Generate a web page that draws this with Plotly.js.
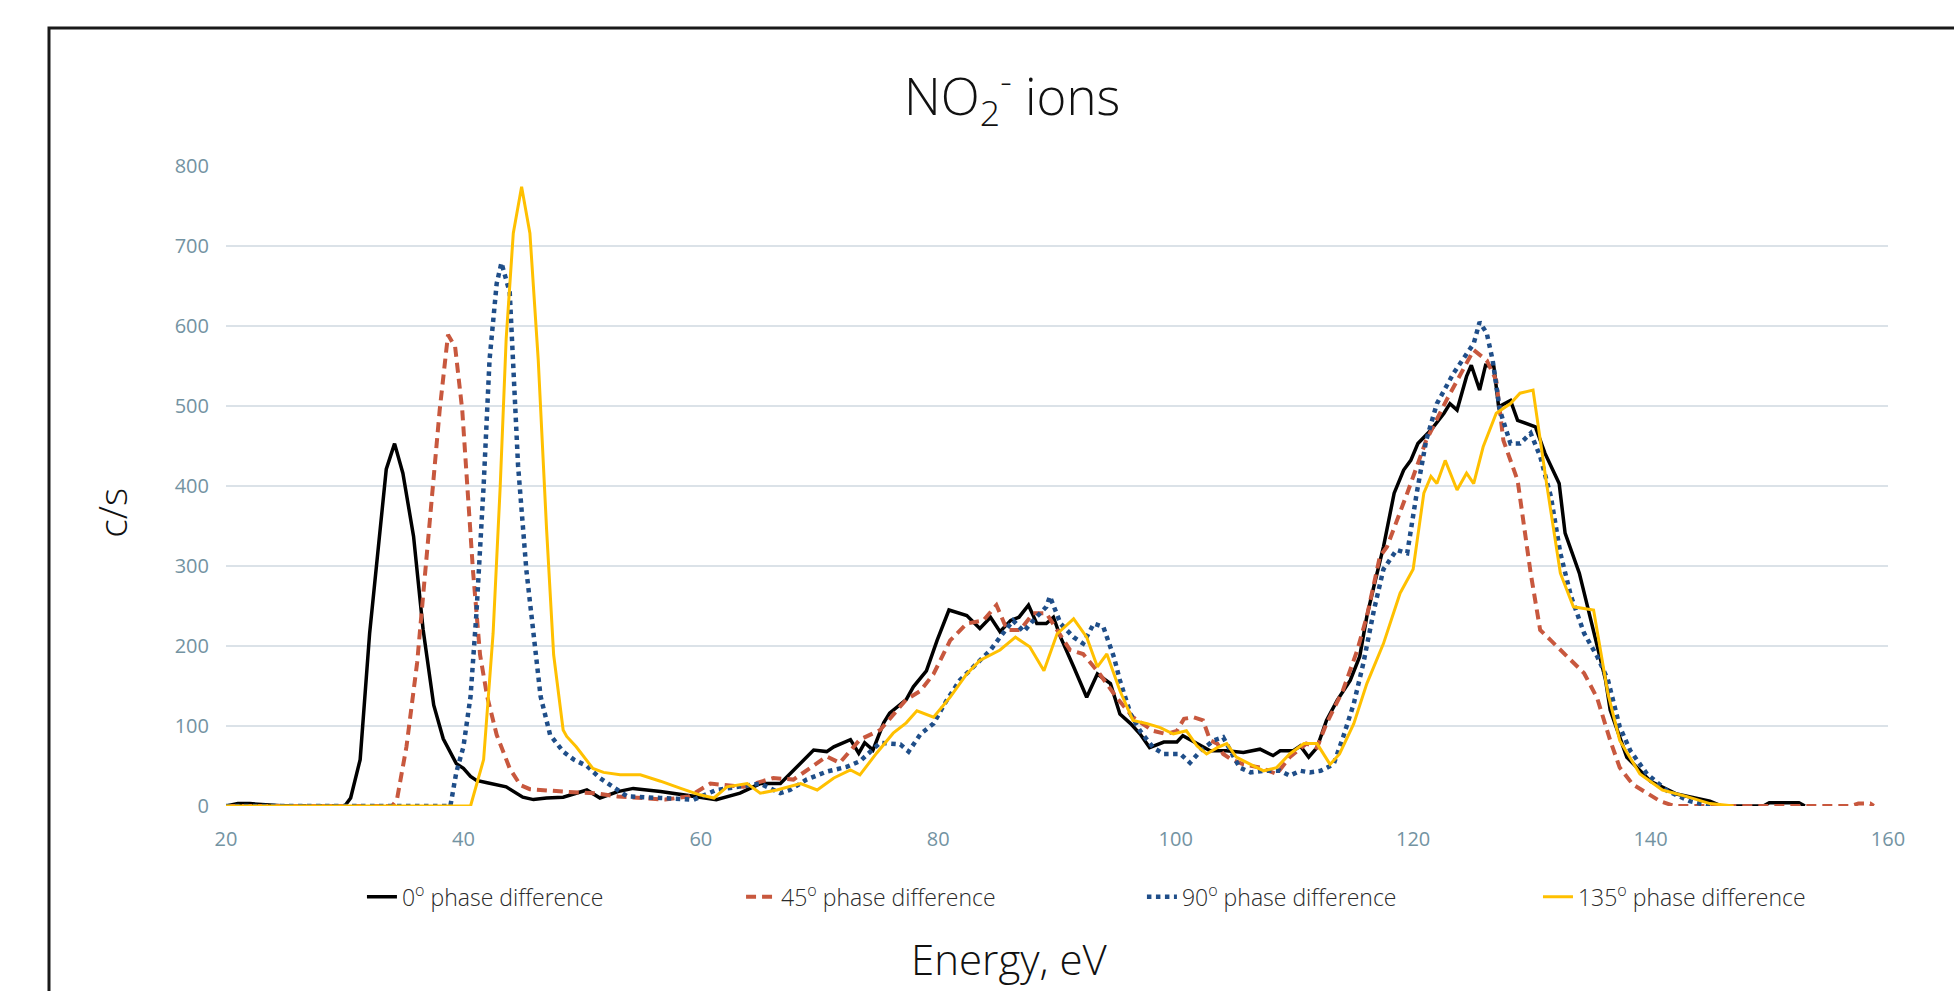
<!DOCTYPE html>
<html>
<head>
<meta charset="utf-8">
<script src="https://cdn.plot.ly/plotly-3.0.1.min.js"></script>
<style>html,body{margin:0;padding:0;background:#fff;}#chart{width:1954px;height:991px;}</style>
</head>
<body>
<div id="chart"></div>
<script>
// Series names
const seriesNames = ['0<sup>o</sup> phase difference', '45<sup>o</sup> phase difference', '90<sup>o</sup> phase difference', '135<sup>o</sup> phase difference'];

// 0 degree phase difference: energy (eV) and count rate (c/s)
const e0 = [20,21,22,23,24,25,28,30,30.5,31.3,
  32.1,33,33.5,34.2,34.9,35.8,36.6,37.5,38.3,39.4,
  40,40.6,41.1,42,42.8,43.6,45,45.9,47,48.4,
  50.4,51.5,53,54.3,56.6,58,59.4,61.3,63.3,65,
  66.7,67.8,69.5,70.6,71.2,72.6,73.3,73.8,74.5,75.4,
  75.9,77.3,77.9,79,79.9,80.9,82.4,83.5,84.4,85.2,
  86.1,86.8,87.6,88.3,89.1,89.7,90.3,91.4,92.5,93.4,
  94.5,95.3,96.2,97,97.8,99,100.1,100.6,101.8,102.9,
  104.3,105.7,107.1,108.2,108.8,109.9,110.5,111.2,111.9,112.7,
  113.6,114.7,115.5,116.1,116.7,117.5,118.4,119.2,119.8,120.4,
  121.5,122.6,123.1,123.7,124.5,124.9,125.6,126.1,126.8,127.2,
  128.2,128.8,130.3,131.1,132.3,132.8,134,135.1,136.2,136.6,
  138,140,142.2,145,146,149.5,150,152.5,153];
const c0 = [0,3,3,2,0,0,0,0,10,58,
  216,347,421,453,416,337,221,126,84,53,
  47,37,32,29,26,24,11,8,10,11,
  20,10,18,22,18,15,12,8,16,28,
  28,45,70,68,74,83,66,79,70,104,
  116,133,149,169,207,245,238,222,236,218,
  232,236,251,228,228,236,211,174,136,165,
  153,115,103,90,73,80,80,88,78,69,
  69,67,71,63,69,69,75,61,73,107,
  132,157,187,237,275,324,391,420,432,453,
  470,491,503,495,537,551,520,551,549,499,
  507,482,474,441,403,341,291,224,158,120,
  61,31,15,6,0,0,4,4,0];

// 45 degree phase difference
const e45 = [20,34,34.4,35.2,36.1,36.9,37.5,38,38.7,39.3,
  39.9,40.4,40.8,41.4,42,42.8,43.9,44.8,45.6,48.4,
  51,53,55.2,57,59,60.8,63.6,66.1,67.8,70.6,
  71.7,73.4,75.1,77.3,78.5,79.6,81,82.4,83.8,84.9,
  85.8,86.9,88,89.1,90,91.1,92.2,93.6,95,96.4,
  98.1,99.2,100.1,100.7,101.5,102.3,102.9,103.5,104,104.6,
  105.7,107.1,108.5,109.6,111,111.9,112.7,114.1,115.3,116.1,
  117.2,117.8,119.5,121.1,122.8,124.2,125.1,126.2,127,127.6,
  128.8,129.9,130.7,131.6,132.7,134.4,135.5,136.6,137.4,138.5,
  140.8,142,156.8,157.5,158.5,158.8];
const c45 = [0,0,8,74,179,311,400,495,589,574,
  495,384,295,189,137,89,47,26,21,18,
  16,12,10,8,12,28,24,35,33,62,
  54,83,95,133,144,165,207,228,232,251,
  220,220,241,241,220,195,190,165,136,111,
  94,90,94,109,111,107,82,78,65,59,
  52,48,40,61,78,73,103,145,195,237,
  312,324,391,457,507,545,570,557,532,457,
  407,291,220,207,191,166,135,82,48,27,
  6,0,0,3,3,0];

// 90 degree phase difference
const e90 = [20,38.9,39.4,40,40.6,41.1,41.7,42.2,42.8,43.2,
  43.9,44.2,44.6,45.3,45.9,46.5,47.3,48.4,49.3,50.4,
  51.5,52.4,53.8,56.6,59.4,61.3,63,65,66.7,67.5,
  68.9,70.6,72.3,73.4,75.1,76.8,77.5,78.5,79.6,80.7,
  81.8,83,84.4,85.2,86.3,87.2,88,89.1,89.4,90.3,
  91.4,92.2,93.1,93.9,94.8,95.3,96.2,97,98.1,99,
  100.4,101.2,102.1,103.2,104,104.9,105.4,106.3,107.4,108.8,
  109.6,110.5,111.3,112.2,113.3,114.1,115,115.8,116.7,117.5,
  118.6,119.5,120.3,121.1,122,123.4,124.5,125.1,125.6,126.2,
  126.7,127.3,128.2,129,129.9,130.7,131.6,132.4,133.3,134.4,
  135.5,136.4,137.4,138.3,139.7,141.4,143.3,145];
const c90 = [0,0,42,74,137,242,400,558,653,679,
  642,558,426,295,216,137,89,68,58,50,
  35,26,12,10,8,20,24,28,16,20,
  33,43,49,56,79,77,68,90,103,132,
  157,174,195,211,232,218,232,249,262,228,
  211,203,228,224,186,157,115,94,73,65,
  65,54,69,82,86,61,48,42,44,44,
  38,44,42,44,52,86,128,178,245,296,
  320,316,391,457,503,541,566,578,605,591,
  557,495,453,453,466,437,387,316,262,216,
  187,158,99,69,40,19,6,0];

// 135 degree phase difference
const e135 = [20,40.6,41.7,42.5,43.1,43.6,44.2,44.9,45.6,46.3,
  47,47.6,48.4,48.7,49.5,50.9,51.8,53.2,54.9,56.6,
  58.3,59.9,61.1,62.2,63.9,65,66.4,68.4,69.8,71.2,
  72.6,73.4,74.8,76.2,77.3,78.2,79.6,81,82.4,83.5,
  85.2,86.5,87.7,88.9,90,91.4,92.5,93.4,94.2,95.3,
  96.4,97.6,98.7,99.8,100.9,101.8,102.6,103.5,104.3,105.1,
  106.3,107.4,108.5,109.6,110.8,111.9,113,113.8,115,116.1,
  117.5,118.9,120,120.9,121.5,122,122.7,123.7,124.5,125.1,
  125.9,127,128.2,129,130.1,131.2,132.4,133.5,135.2,136.4,
  137.4,139.1,141,143,145,147];
const c135 = [0,0,58,216,400,584,716,774,716,558,
  347,189,95,87,74,47,42,39,39,31,
  22,14,10,24,28,16,20,28,20,35,
  45,39,66,91,104,119,111,136,165,182,
  195,211,199,169,215,234,211,174,190,144,
  107,103,98,90,94,75,65,73,78,61,
  52,44,48,65,78,78,52,65,103,153,
  203,266,296,391,412,403,432,395,416,403,
  449,491,503,516,520,407,291,249,245,141,
  82,40,20,12,3,0];

const xTicks = [20,40,60,80,100,120,140,160];
const yTicks = [0,100,200,300,400,500,600,700,800];
const chartTitle = 'NO<sub>2</sub><sup>-</sup> ions';
const xTitle = 'Energy, eV';
const yTitle = 'c/s';

const FONT = 'Open Sans, Noto Sans, sans-serif';
const tickColor = '#7393a2';

const traces = [
  {x:e0, y:c0, name:seriesNames[0], mode:'lines', line:{color:'#000000', width:3.5}, legend:'legend'},
  {x:e45, y:c45, name:seriesNames[1], mode:'lines', line:{color:'#C8583E', width:4, dash:'10px,6px'}, legend:'legend2'},
  {x:e90, y:c90, name:seriesNames[2], mode:'lines', line:{color:'#1F4E89', width:4.5, dash:'dot'}, legend:'legend3'},
  {x:e135, y:c135, name:seriesNames[3], mode:'lines', line:{color:'#FFC000', width:3}, legend:'legend4'}
];

const legBase = {orientation:'h', y:-0.142, yanchor:'middle', xanchor:'left', bgcolor:'rgba(0,0,0,0)',
  font:{family:FONT, size:23, color:'#2a2a2a', weight:300}};

const layout = {
  width:1954, height:991,
  paper_bgcolor:'#ffffff', plot_bgcolor:'#ffffff',
  margin:{l:226, r:66, t:166, b:185},
  showlegend:true,
  title:{text:chartTitle, x:0.518, xref:'container', xanchor:'center', y:0.902, yref:'container', yanchor:'middle',
    font:{family:FONT, size:51, color:'#111111', weight:300}},
  xaxis:{range:[20,160], tickmode:'array', tickvals:xTicks, showgrid:false, zeroline:false, showline:false, ticks:'',
    ticklabelstandoff:19, tickfont:{family:FONT, size:20, color:tickColor}},
  yaxis:{range:[0,800], tickmode:'array', tickvals:yTicks, showgrid:true, gridcolor:'#dbe2e8', gridwidth:1.5,
    zeroline:false, showline:false, ticks:'', ticklabelstandoff:16, tickfont:{family:FONT, size:20, color:tickColor}},
  legend:Object.assign({}, legBase, {x:0.0818}),
  legend2:Object.assign({}, legBase, {x:0.3099}),
  legend3:Object.assign({}, legBase, {x:0.5511}),
  legend4:Object.assign({}, legBase, {x:0.7894}),
  annotations:[
    {text:xTitle, xref:'paper', yref:'paper', x:0.4717, y:-0.2375, xanchor:'center', yanchor:'middle', showarrow:false,
      font:{family:FONT, size:42, color:'#111111', weight:300}},
    {text:yTitle, xref:'paper', yref:'paper', x:-0.0686, y:0.458, xanchor:'center', yanchor:'middle', showarrow:false, textangle:-90,
      font:{family:FONT, size:39, color:'#111111', weight:300}}
  ],
  shapes:[{type:'rect', xref:'paper', yref:'paper', x0:-0.1065, x1:1.08, y0:-0.32, y1:1.2156,
    line:{color:'#1a1a1a', width:3}, fillcolor:'rgba(0,0,0,0)', layer:'above'}]
};

Plotly.newPlot('chart', traces, layout, {displayModeBar:false, staticPlot:true});
</script>
</body>
</html>
